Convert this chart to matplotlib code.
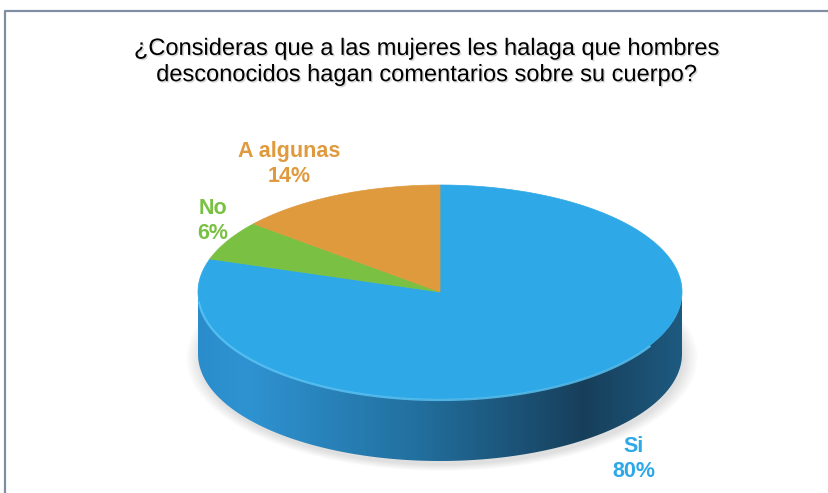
import numpy as np
import matplotlib
matplotlib.use("Agg")
import matplotlib.pyplot as plt
from matplotlib.patches import Polygon, Ellipse
from matplotlib.colors import LinearSegmentedColormap
import matplotlib.patheffects as pe

plt.rcParams['font.family'] = ['Liberation Sans', 'DejaVu Sans']

# data
labels = ["Si", "No", "A algunas"]
values = [80, 6, 14]
colors = ["#2EA8E6", "#7AC143", "#E09A3E"]
label_colors = ["#2EA8E6", "#7AC143", "#E09A3E"]
title = "¿Consideras que a las mujeres les halaga que hombres\ndesconocidos hagan comentarios sobre su cuerpo?"

# geometry (pixels)
W, H = 829, 493
cx, cy = 440, 292
a, b = 242, 107
depth = 62

fig = plt.figure(figsize=(W / 100, H / 100), dpi=100)
ax = fig.add_axes([0, 0, 1, 1])
ax.set_xlim(0, W)
ax.set_ylim(H, 0)
ax.axis("off")

# frame
ax.plot([5, 5, W + 5], [H + 5, 11, 11], color="#7F8EA3", lw=1.6, zorder=1)


def pt(theta_deg, dy=0.0):
    t = np.radians(theta_deg)
    return cx + a * np.cos(t), cy - b * np.sin(t) + dy


# soft shadow
for i in range(8):
    s = 1 + i * 0.008
    ax.add_patch(Ellipse((cx + 2, cy + depth + 4), 2 * a * s, 2 * b * s,
                         facecolor="#000000", alpha=0.015, lw=0, zorder=2))

# side wall (front half)
th = np.linspace(180, 360, 200)
top = np.array([pt(t) for t in th])
bot = np.array([pt(t, depth) for t in th[::-1]])
side = Polygon(np.vstack([top, bot]), closed=True, facecolor="none", lw=0, zorder=3)
ax.add_patch(side)
cmap = LinearSegmentedColormap.from_list(
    "side", [(0.0, "#2A8CCB"), (0.1, "#2F93D2"), (0.45, "#22709F"),
             (0.8, "#173F5B"), (1.0, "#1E5A80")])
grad = np.linspace(0, 1, 256)[None, :]
im = ax.imshow(grad, cmap=cmap, extent=[cx - a, cx + a, cy + b + depth, cy - 2],
               aspect="auto", zorder=3)
im.set_clip_path(side)

# top slices: clockwise from 12 o'clock
start = 90.0
for v, c in zip(values, colors):
    sweep = 360.0 * v / sum(values)
    ts = np.linspace(start, start - sweep, max(int(sweep), 2) * 2)
    arc = np.array([pt(t) for t in ts])
    ax.add_patch(Polygon(np.vstack([[cx, cy], arc]), closed=True,
                         facecolor=c, edgecolor=c, lw=0.5, zorder=4))
    start -= sweep

# rim highlight on front edge
th2 = np.linspace(185, 330, 150)
rim = np.array([pt(t, 1) for t in th2])
ax.plot(rim[:, 0], rim[:, 1], color="#5CC6F7", lw=1.6, alpha=0.8, zorder=5)

# title
ax.text(427, 62, title, ha="center", va="center", fontsize=17, color="black",
        linespacing=1.25, zorder=6,
        path_effects=[pe.withSimplePatchShadow(offset=(1, -1), shadow_rgbFace="#999999", alpha=0.4)])

# data labels
label_pos = [(634, 459), (213, 221), (289, 164)]
for lab, v, (x, y), c in zip(labels, values, label_pos, label_colors):
    ax.text(x, y, f"{lab}\n{v}%", ha="center", va="center", fontsize=15.5,
            fontweight="bold", color=c, linespacing=1.25, zorder=6)

fig.savefig("out.png", dpi=100)
